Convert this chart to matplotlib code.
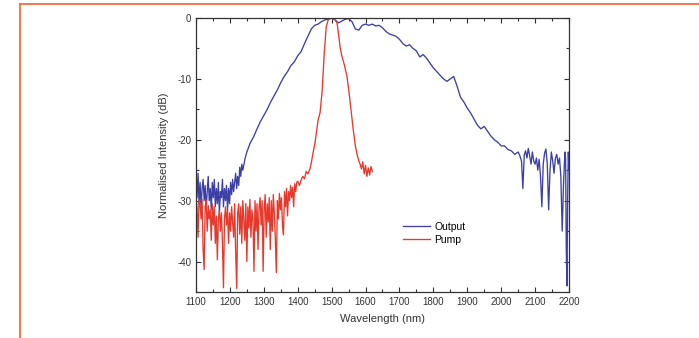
import matplotlib
matplotlib.use("Agg")
import matplotlib.pyplot as plt
from matplotlib.lines import Line2D
from matplotlib.ticker import MultipleLocator

plt.rcParams['font.family'] = ['Liberation Sans', 'DejaVu Sans']
plt.rcParams['axes.unicode_minus'] = False

# Output (supercontinuum) spectrum
output_wl = [1100, 1103, 1106, 1109, 1112, 1115, 1118, 1121, 1124, 1127,
             1130, 1133, 1136, 1139, 1142, 1145, 1148, 1151, 1154, 1157,
             1160, 1163, 1166, 1169, 1172, 1175, 1178, 1181, 1184, 1187,
             1190, 1193, 1196, 1199, 1202, 1205, 1208, 1211, 1214, 1217,
             1220, 1223, 1226, 1229, 1232, 1235, 1238,
             1245, 1250, 1260, 1270, 1280, 1290, 1300, 1310, 1320, 1330,
             1340, 1350, 1360, 1370, 1380, 1390, 1400, 1410, 1420, 1430,
             1440, 1450, 1460, 1470, 1480, 1490, 1500, 1510, 1520, 1530,
             1540, 1550, 1560, 1570, 1580, 1590, 1600, 1610, 1620, 1630,
             1640, 1650, 1660, 1670, 1680, 1690, 1700, 1710, 1720, 1730,
             1740, 1750, 1760, 1770, 1780, 1790, 1800, 1810, 1820, 1830,
             1840, 1850, 1860, 1870, 1880, 1890, 1900, 1910, 1920, 1930,
             1940, 1950, 1960, 1970, 1980, 1990, 2000, 2010, 2020, 2030,
             2040, 2050, 2055, 2060, 2064, 2068, 2072, 2076, 2080, 2084,
             2088, 2092, 2096, 2100, 2104, 2108, 2112, 2116, 2120, 2124,
             2128, 2132, 2136, 2140, 2144, 2148, 2152, 2156, 2160, 2164,
             2168, 2172, 2176, 2180, 2184, 2188, 2190, 2192, 2194, 2196,
             2198, 2200]
output_db = [-26.0, -29.5, -25.5, -30.5, -27.0, -31.0, -28.0, -26.5, -30.0, -27.5,
             -31.5, -28.5, -26.0, -30.0, -28.0, -31.5, -27.0, -29.5, -26.5, -31.0,
             -28.0, -30.5, -27.0, -32.0, -28.5, -29.5, -26.5, -31.0, -28.0, -30.0,
             -27.5, -31.5, -28.0, -30.5, -27.0, -29.0, -26.5, -28.5, -27.0, -25.5,
             -28.0, -26.0, -27.5, -24.5, -26.0, -24.0, -25.0,
             -23.0, -22.0, -20.5, -19.5, -18.2, -17.0, -16.0, -15.0, -13.8, -12.8,
             -11.8, -10.6, -9.6, -8.8, -7.8, -7.2, -6.2, -5.5, -4.2, -3.0,
             -1.8, -1.2, -1.0, -0.6, -0.3, -0.2, 0.0, -0.3, -0.8, -0.5,
             -0.2, -0.1, -0.6, -1.8, -2.0, -1.2, -1.0, -1.2, -1.0, -1.3,
             -1.2, -1.6, -2.2, -2.6, -2.8, -3.0, -3.5, -4.2, -4.6, -4.4,
             -5.0, -5.4, -6.4, -6.0, -6.6, -7.4, -8.2, -8.8, -9.4, -10.0,
             -10.4, -10.0, -9.6, -11.2, -13.0, -13.8, -14.8, -15.6, -16.6, -17.6,
             -18.2, -17.8, -18.6, -19.4, -20.0, -20.4, -21.0, -21.0, -21.6, -21.8,
             -22.4, -22.0, -22.6, -23.5, -28.0, -22.5, -21.8, -23.0, -21.4, -22.6,
             -24.0, -22.0, -23.5, -24.0, -23.0, -25.0, -23.2, -26.0, -31.0, -24.0,
             -22.2, -21.5, -24.0, -31.5, -25.0, -22.0, -23.5, -25.5, -23.0, -22.4,
             -24.0, -23.0, -26.0, -35.0, -27.0, -22.0, -23.0, -38.0, -44.0, -30.0,
             -22.0, -25.0]

# Pump spectrum
pump_wl = [1100, 1103, 1106, 1109, 1112, 1115, 1118, 1121, 1124, 1127,
           1130, 1133, 1136, 1139, 1142, 1145, 1148, 1151, 1154, 1157,
           1160, 1163, 1166, 1169, 1172, 1175, 1178, 1181, 1184, 1187,
           1190, 1193, 1196, 1199, 1202, 1205, 1208, 1211, 1214, 1217,
           1220, 1223, 1226, 1229, 1232, 1235, 1238, 1241, 1244, 1247,
           1250, 1253, 1256, 1259, 1262, 1265, 1268, 1271, 1274, 1277,
           1280, 1283, 1286, 1289, 1292, 1295, 1298, 1301, 1304, 1307,
           1310, 1313, 1316, 1319, 1322, 1325, 1328, 1331, 1334, 1337,
           1340, 1343, 1346, 1349, 1352, 1355, 1358, 1361, 1364, 1367,
           1370, 1373, 1376, 1379, 1382, 1385, 1388, 1391, 1394, 1397,
           1400, 1405, 1410, 1415, 1420, 1425, 1430, 1436, 1440, 1445,
           1451, 1456, 1460, 1466, 1472, 1478, 1484, 1490, 1495,
           1500, 1505, 1510, 1516, 1520, 1525, 1530, 1537, 1545,
           1552, 1558, 1563, 1570, 1575, 1580, 1584, 1588, 1592,
           1596, 1600, 1604, 1608, 1612, 1616, 1620]
pump_db = [-29.5, -31.0, -36.0, -30.0, -30.5, -33.0, -29.8, -38.0, -41.3, -31.0,
           -30.0, -35.0, -30.8, -33.0, -31.5, -36.5, -30.5, -34.0, -31.0, -37.0,
           -32.5, -39.7, -33.0, -31.5, -35.0, -32.0, -37.0, -44.3, -33.0, -31.0,
           -34.0, -31.5, -37.0, -32.0, -35.0, -31.0, -33.5, -36.0, -30.5, -38.5,
           -44.4, -32.0, -30.5, -35.5, -31.0, -37.0, -30.0, -33.0, -36.5, -30.5,
           -40.0, -31.0, -34.5, -29.8, -36.0, -31.5, -33.0, -41.6, -30.0, -35.0,
           -30.5, -38.0, -31.0, -29.5, -34.0, -30.0, -41.6, -31.5, -29.0, -36.0,
           -30.5, -33.5, -29.5, -38.0, -30.0, -35.0, -29.0, -32.0, -36.5, -41.8,
           -30.0, -33.0, -28.8, -31.5, -29.5, -34.0, -35.6, -28.5, -31.0, -28.0,
           -32.5, -28.5, -30.0, -27.5, -29.5, -27.8, -31.0, -27.2, -28.5, -27.0,
           -26.8, -27.5, -26.6, -26.0, -26.4, -25.2, -25.6, -24.8, -23.8, -22.2,
           -20.5, -18.5, -16.8, -15.5, -12.0, -6.0, -1.5, -0.3, -0.1,
           0.0, -0.2, -0.3, -0.8, -2.5, -4.8, -6.2, -7.6, -9.5,
           -12.5, -15.5, -18.0, -21.0, -22.4, -23.4, -24.0, -24.8, -23.6,
           -25.6, -24.2, -26.0, -24.6, -25.8, -24.4, -25.2]

fig = plt.figure(figsize=(6.99, 3.38), dpi=100)
ax = fig.add_axes([0.2804, 0.136, 0.5336, 0.8107])

ax.plot(output_wl, output_db, color='#3b3fa6', lw=0.95, label='Output')
ax.plot(pump_wl, pump_db, color='#e8372b', lw=0.95, label='Pump')

ax.set_xlim(1100, 2200)
ax.set_ylim(-45, 0)
ax.xaxis.set_major_locator(MultipleLocator(100))
ax.xaxis.set_minor_locator(MultipleLocator(50))
ax.yaxis.set_major_locator(MultipleLocator(10))
ax.yaxis.set_minor_locator(MultipleLocator(5))
ax.tick_params(which='both', direction='in', top=True, right=True,
               labelsize=7, colors='#333333', width=0.8)
ax.tick_params(which='major', length=3.5)
ax.tick_params(which='minor', length=2)
for s in ax.spines.values():
    s.set_color('#333333')
    s.set_linewidth(0.9)

ax.set_xlabel('Wavelength (nm)', fontsize=8, color='#333333', labelpad=5)
ax.set_ylabel('Normalised Intensity (dB)', fontsize=8, color='#333333', labelpad=6)

ax.legend(loc='upper left', bbox_to_anchor=(0.53, 0.29), frameon=False,
          fontsize=7.5, handlelength=2.6, handletextpad=0.4, labelspacing=0.3)

# orange frame round the figure
fig.add_artist(Line2D([20 / 699, 20 / 699], [0, 1 - 4 / 338], color='#f26d3d', lw=1.3))
fig.add_artist(Line2D([20 / 699, 1], [1 - 4 / 338, 1 - 4 / 338], color='#f26d3d', lw=1.3))

fig.savefig('out.png', dpi=100)
